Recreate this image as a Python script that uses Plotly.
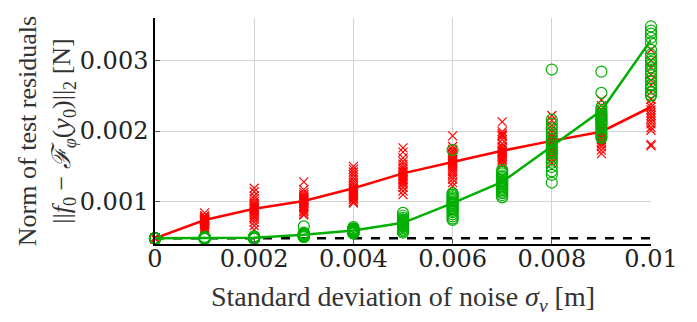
import numpy as np
import plotly.graph_objects as go

# noise levels (m)
sigma = [0, 0.001, 0.002, 0.003, 0.004, 0.005, 0.006, 0.007, 0.008, 0.009, 0.01]
tick_x = [0, 0.002, 0.004, 0.006, 0.008, 0.01]
tick_x_text = ["0", "0.002", "0.004", "0.006", "0.008", "0.01"]
tick_y = [0.001, 0.002, 0.003]
tick_y_text = ["0.001", "0.002", "0.003"]

# residual values, in units of 1e-3 N
red_pts = [
    [0.48] * 20,
    [0.84, 0.80, 0.78, 0.77, 0.76, 0.75, 0.75, 0.74, 0.74, 0.73, 0.73, 0.72, 0.71, 0.70, 0.68, 0.66, 0.64, 0.62, 0.60, 0.58],
    [1.19, 1.14, 1.08, 1.04, 1.00, 0.97, 0.95, 0.93, 0.91, 0.90, 0.89, 0.87, 0.85, 0.83, 0.80, 0.78, 0.75, 0.71, 0.66, 0.60],
    [1.28, 1.17, 1.13, 1.10, 1.08, 1.06, 1.04, 1.03, 1.02, 1.01, 1.00, 0.99, 0.97, 0.95, 0.93, 0.91, 0.88, 0.86, 0.83, 0.81],
    [1.50, 1.46, 1.42, 1.38, 1.34, 1.30, 1.27, 1.24, 1.21, 1.19, 1.17, 1.15, 1.13, 1.11, 1.09, 1.07, 1.05, 1.03, 1.00, 0.98],
    [1.76, 1.70, 1.62, 1.57, 1.53, 1.49, 1.46, 1.43, 1.41, 1.39, 1.37, 1.35, 1.33, 1.31, 1.29, 1.27, 1.24, 1.20, 1.15, 1.10],
    [1.93, 1.78, 1.74, 1.71, 1.68, 1.65, 1.62, 1.60, 1.58, 1.56, 1.54, 1.52, 1.49, 1.46, 1.43, 1.40, 1.36, 1.32, 1.27, 1.22],
    [2.13, 1.99, 1.96, 1.94, 1.92, 1.88, 1.82, 1.78, 1.75, 1.73, 1.71, 1.70, 1.68, 1.66, 1.64, 1.62, 1.60, 1.58, 1.55, 1.52],
    [2.22, 2.15, 2.08, 2.03, 1.98, 1.94, 1.91, 1.88, 1.86, 1.84, 1.82, 1.80, 1.78, 1.76, 1.74, 1.71, 1.68, 1.64, 1.60, 1.55],
    [2.44, 2.36, 2.30, 2.24, 2.18, 2.12, 2.08, 2.04, 2.01, 1.99, 1.97, 1.95, 1.93, 1.91, 1.88, 1.85, 1.82, 1.78, 1.73, 1.68],
    [3.15, 3.00, 2.90, 2.80, 2.72, 2.65, 2.55, 2.45, 2.38, 2.34, 2.30, 2.26, 2.22, 2.18, 2.14, 2.10, 2.05, 2.01, 1.81, 1.79],
]
red_mean = [0.48, 0.74, 0.90, 1.01, 1.19, 1.40, 1.56, 1.72, 1.86, 1.99, 2.34]

green_pts = [
    [0.48] * 20,
    [0.50, 0.49, 0.49, 0.49, 0.48, 0.48, 0.48, 0.48, 0.48, 0.48, 0.48, 0.48, 0.48, 0.48, 0.48, 0.48, 0.48, 0.48, 0.48, 0.48],
    [0.51, 0.50, 0.50, 0.50, 0.49, 0.49, 0.49, 0.49, 0.49, 0.49, 0.49, 0.49, 0.48, 0.48, 0.48, 0.48, 0.48, 0.48, 0.48, 0.48],
    [0.65, 0.56, 0.55, 0.54, 0.54, 0.53, 0.53, 0.53, 0.52, 0.52, 0.52, 0.52, 0.52, 0.51, 0.51, 0.51, 0.51, 0.50, 0.50, 0.50],
    [0.64, 0.62, 0.61, 0.61, 0.60, 0.60, 0.60, 0.59, 0.59, 0.59, 0.58, 0.58, 0.58, 0.57, 0.57, 0.57, 0.56, 0.56, 0.55, 0.55],
    [0.84, 0.80, 0.77, 0.75, 0.74, 0.73, 0.72, 0.71, 0.70, 0.70, 0.69, 0.68, 0.67, 0.66, 0.65, 0.64, 0.62, 0.60, 0.58, 0.56],
    [1.73, 1.12, 1.10, 1.08, 1.06, 1.04, 1.02, 1.00, 0.98, 0.97, 0.95, 0.93, 0.91, 0.89, 0.87, 0.85, 0.82, 0.79, 0.76, 0.74],
    [1.45, 1.42, 1.40, 1.37, 1.35, 1.33, 1.31, 1.29, 1.28, 1.26, 1.25, 1.24, 1.22, 1.20, 1.18, 1.16, 1.14, 1.12, 1.09, 1.06],
    [2.87, 2.16, 2.10, 2.04, 1.98, 1.93, 1.88, 1.84, 1.80, 1.77, 1.74, 1.71, 1.68, 1.64, 1.60, 1.55, 1.49, 1.43, 1.38, 1.27],
    [2.84, 2.54, 2.34, 2.30, 2.27, 2.24, 2.22, 2.20, 2.18, 2.16, 2.14, 2.12, 2.10, 2.08, 2.05, 2.02, 1.98, 1.95, 1.92, 1.90],
    [3.48, 3.42, 3.38, 3.32, 3.25, 3.15, 3.08, 3.02, 2.98, 2.94, 2.90, 2.85, 2.80, 2.75, 2.70, 2.65, 2.60, 2.55, 2.51, 2.50],
]
green_mean = [0.48, 0.48, 0.49, 0.53, 0.59, 0.70, 0.98, 1.28, 1.78, 2.29, 3.29]

baseline = 0.48  # noise-free reference level (1e-3 N)

SCALE = 1e-3
RED = "#ff0000"
GREEN = "#00b000"
FONT = "Liberation Serif"
TICKFONT = "DejaVu Serif"


def flatten(pts):
    xs, ys = [], []
    for s, vals in zip(sigma, pts):
        xs += [s] * len(vals)
        ys += [v * SCALE for v in vals]
    return xs, ys


fig = go.Figure()

rx, ry = flatten(red_pts)
gx, gy = flatten(green_pts)

fig.add_trace(go.Scatter(x=[sigma[0], sigma[-1]], y=[baseline * SCALE] * 2, mode="lines",
                         line=dict(color="black", width=2.5, dash="dash"), cliponaxis=False,
                         showlegend=False, hoverinfo="skip"))
fig.add_trace(go.Scatter(x=rx, y=ry, mode="markers",
                         marker=dict(symbol="x-thin-open", size=9, color=RED, line=dict(color=RED, width=1.2)),
                         cliponaxis=False, showlegend=False))
fig.add_trace(go.Scatter(x=sigma, y=[v * SCALE for v in red_mean], mode="lines",
                         line=dict(color=RED, width=2.5), cliponaxis=False, showlegend=False))
fig.add_trace(go.Scatter(x=gx, y=gy, mode="markers",
                         marker=dict(symbol="circle-open", size=11, color=GREEN, line=dict(color=GREEN, width=1.2)),
                         cliponaxis=False, showlegend=False))
fig.add_trace(go.Scatter(x=sigma, y=[v * SCALE for v in green_mean], mode="lines",
                         line=dict(color=GREEN, width=2.5), cliponaxis=False, showlegend=False))

fig.update_layout(
    width=689, height=314,
    margin=dict(l=147, r=46, t=10, b=78),
    paper_bgcolor="white", plot_bgcolor="white",
    font=dict(family=FONT, size=27, color="#222222"),
)
fig.update_xaxes(
    range=[0, 0.01], tickvals=tick_x, ticktext=tick_x_text, automargin=False,
    showgrid=True, gridcolor="#d3d3d3", gridwidth=1,
    showline=True, linecolor="black", linewidth=1.5,
    ticks="inside", ticklen=5, tickcolor="#555555", ticklabelstandoff=-8,
    zeroline=False, tickfont=dict(family=TICKFONT, size=24, color="#222222"),
    title=dict(text="Standard deviation of noise <i>σ</i><sub><i>ν</i></sub> [m]",
               font=dict(family=FONT, size=28, color="#333333"), standoff=15),
)
fig.update_yaxes(
    range=[0.0004, 0.0036], tickvals=tick_y, ticktext=tick_y_text, automargin=False,
    showgrid=True, gridcolor="#d3d3d3", gridwidth=1,
    showline=True, linecolor="black", linewidth=1.5,
    ticks="inside", ticklen=5, tickcolor="#555555",
    zeroline=False, tickfont=dict(family=TICKFONT, size=24, color="#222222"),
    title=dict(text="Norm of test residuals<br>||<i>f</i><sub>0</sub> − <i>ℱ</i><sub><i>φ</i></sub>(<i>y</i><sub>0</sub>)||<sub>2</sub> [N]",
               font=dict(family=FONT, size=26, color="#333333"), standoff=0),
)

fig.write_html("out.html")
